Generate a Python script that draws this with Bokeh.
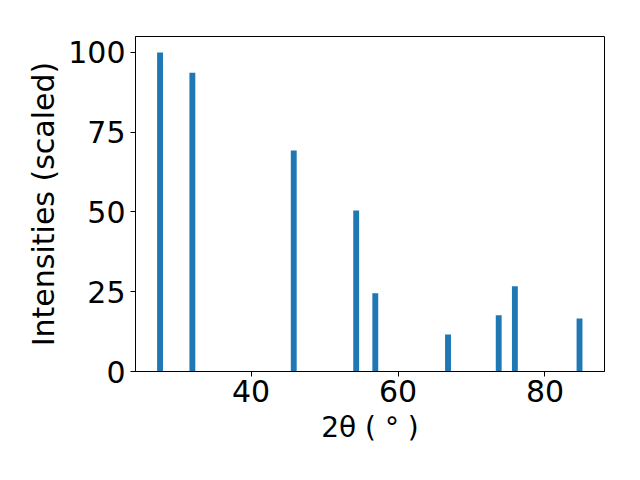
from bokeh.plotting import figure
from bokeh.embed import file_html
from bokeh.resources import INLINE
from bokeh.models import Range1d, FixedTicker

two_theta = [27.6, 32.0, 45.8, 54.3, 56.9, 66.8, 73.7, 75.9, 84.7]
intensity = [100.0, 93.6, 69.3, 50.5, 24.5, 11.6, 17.6, 26.7, 16.6]
x_ticks = [40, 60, 80]
y_ticks = [0, 25, 50, 75, 100]

FONT = "DejaVu Sans"

p = figure(width=624, height=464, output_backend="svg", toolbar_location=None,
           x_range=Range1d(24.26, 88.1), y_range=Range1d(0, 105),
           min_border_left=135, min_border_right=20, min_border_top=36, min_border_bottom=93)

p.vbar(x=two_theta, top=intensity, width=0.8, bottom=0, color="#1f77b4", line_color=None)

p.xgrid.visible = False
p.ygrid.visible = False
p.outline_line_color = "black"
p.outline_line_width = 1
p.outline_line_alpha = 1

p.xaxis.ticker = FixedTicker(ticks=x_ticks)
p.yaxis.ticker = FixedTicker(ticks=y_ticks)
p.xaxis.axis_label = "2θ ( ° )"
p.yaxis.axis_label = "Intensities (scaled)"

for ax in (p.xaxis, p.yaxis):
    ax.major_label_text_font = FONT
    ax.major_label_text_font_size = "30px"
    ax.major_label_text_color = "black"
    ax.axis_label_text_font = FONT
    ax.axis_label_text_font_size = "30px"
    ax.axis_label_text_font_style = "normal"
    ax.axis_label_text_color = "black"
    ax.axis_line_color = "black"
    ax.major_tick_line_color = "black"
    ax.major_tick_out = 5
    ax.major_tick_in = 0
    ax.minor_tick_line_color = None
    ax.major_label_standoff = 5
    ax.axis_label_standoff = 8

p.yaxis.axis_label_standoff = 4
p.xaxis.axis_label_text_font_size = "28px"
p.xaxis.major_label_standoff = 3
p.xaxis.axis_label_standoff = 6

p.background_fill_color = "white"
p.border_fill_color = "white"

open("out.html", "w").write(file_html(p, INLINE))
